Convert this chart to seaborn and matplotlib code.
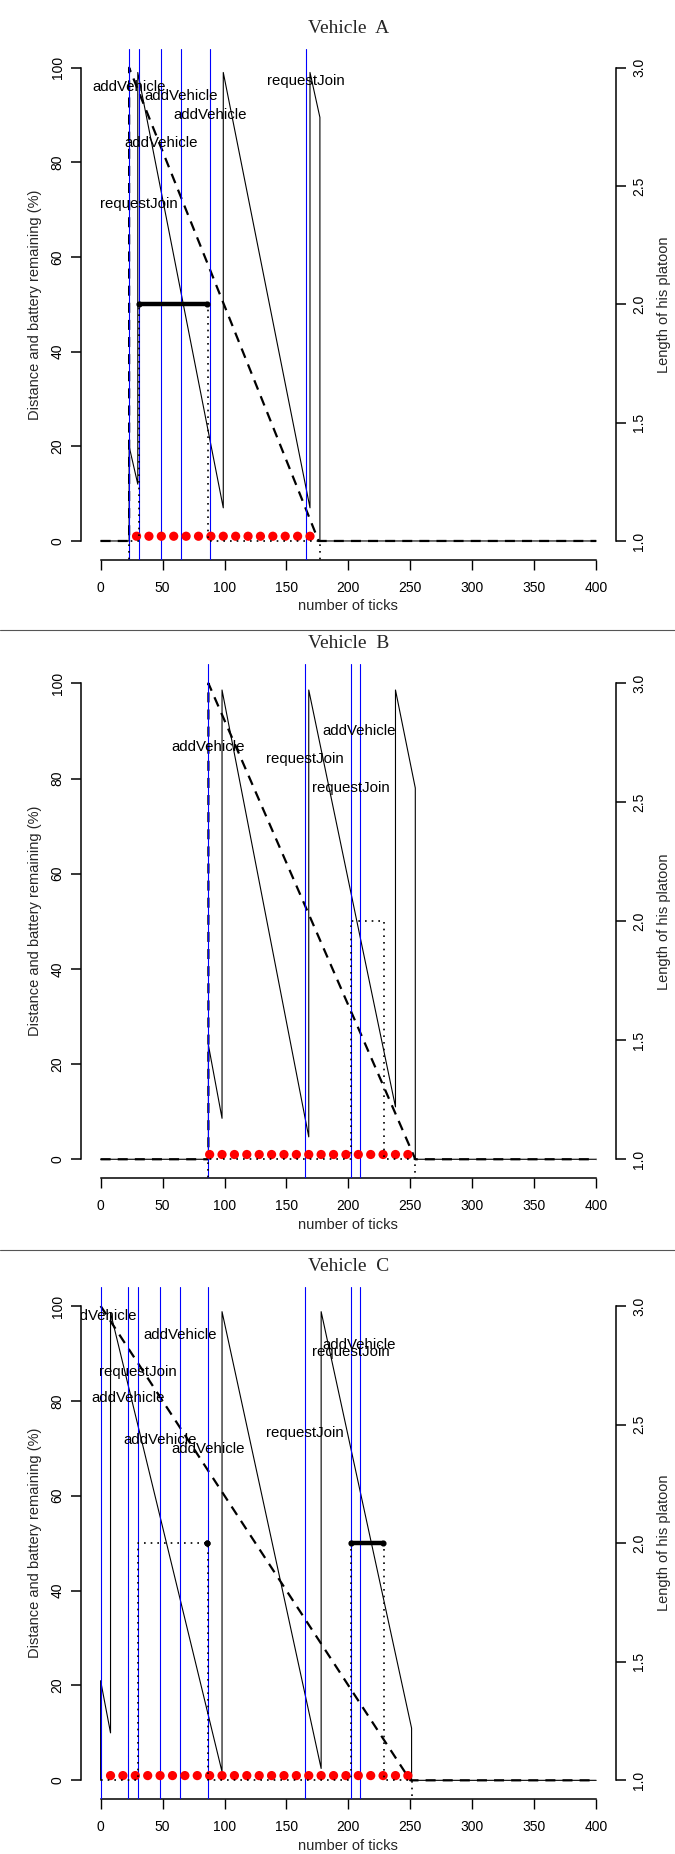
import numpy as np
import pandas as pd
import matplotlib
matplotlib.use("Agg")
import matplotlib.pyplot as plt
import seaborn as sns
from matplotlib.lines import Line2D

sns.set_style("ticks")
plt.rcParams['font.family'] = ['Liberation Sans', 'DejaVu Sans']

# ---------------- data ----------------
x_tick_values = [0, 50, 100, 150, 200, 250, 300, 350, 400]
left_tick_values = [0, 20, 40, 60, 80, 100]
right_tick_values = [1.0, 1.5, 2.0, 2.5, 3.0]
right_tick_labels = ["1.0", "1.5", "2.0", "2.5", "3.0"]

# Vehicle A
battery_A_x = [0, 23, 23, 30, 30, 99, 99, 169, 169, 177, 177, 400]
battery_A_y = [0, 0, 20, 12, 99, 7, 99, 7, 99, 89.5, 0, 0]
distance_A_x = [0, 23, 23, 176, 400]
distance_A_y = [0, 0, 100, 0, 0]
platoon_A_x = [0, 23, 23, 31, 31, 87, 87, 177, 177, 400]
platoon_A_y = [0, 0, 1, 1, 2, 2, 1, 1, 0, 0]
leader_A_start = [31]
leader_A_end = [86]
events_A_x = [23, 31, 49, 65, 88, 166]
labels_A = ["addVehicle", "requestJoin", "addVehicle", "addVehicle", "addVehicle", "requestJoin"]
labels_A_y = [96, 71.3, 84, 94, 90, 97.3]
red_A_x = [29, 39, 49, 59, 69, 79, 89, 99, 109, 119, 129, 139, 149, 159, 169]

# Vehicle B
battery_B_x = [0, 87, 87, 98, 98, 168, 168, 238, 238, 254, 254, 400]
battery_B_y = [0, 0, 24, 8.6, 98.6, 4.7, 98.6, 11, 98.6, 78, 0, 0]
distance_B_x = [0, 87, 87, 254, 400]
distance_B_y = [0, 0, 100, 0, 0]
platoon_B_x = [0, 87, 87, 202, 202, 229, 229, 254, 254, 400]
platoon_B_y = [0, 0, 1, 1, 2, 2, 1, 1, 0, 0]
leader_B_start = []
leader_B_end = []
events_B_x = [87, 165, 202, 209]
labels_B = ["addVehicle", "requestJoin", "requestJoin", "addVehicle"]
labels_B_y = [86.7, 84.2, 78.1, 90]
red_B_x = [88, 98, 108, 118, 128, 138, 148, 158, 168, 178, 188, 198, 208, 218, 228, 238, 248]

# Vehicle C
battery_C_x = [0, 0, 8, 8, 98, 98, 178, 178, 251, 251, 400]
battery_C_y = [0, 21, 10, 98.6, 1.8, 98.8, 2.5, 98.8, 11, 0, 0]
distance_C_x = [0, 250, 400]
distance_C_y = [100, 0, 0]
platoon_C_x = [0, 30, 30, 87, 87, 202, 202, 229, 229, 251, 251, 400]
platoon_C_y = [1, 1, 2, 2, 1, 1, 2, 2, 1, 1, 0, 0]
leader_C_start = [86, 202]
leader_C_end = [86, 228]
events_C_x = [0, 22, 30, 48, 64, 87, 165, 202, 209]
labels_C = ["addVehicle", "addVehicle", "requestJoin", "addVehicle", "addVehicle",
            "addVehicle", "requestJoin", "requestJoin", "addVehicle"]
labels_C_y = [97.9, 80.7, 86.1, 71.7, 93.8, 69.8, 73.2, 90.2, 91.8]
red_C_x = [8, 18, 28, 38, 48, 58, 68, 78, 88, 98, 108, 118, 128, 138, 148, 158,
           168, 178, 188, 198, 208, 218, 228, 238, 248]

panels = [
    ("A", battery_A_x, battery_A_y, distance_A_x, distance_A_y, platoon_A_x, platoon_A_y,
     leader_A_start, leader_A_end, events_A_x, labels_A, labels_A_y, red_A_x),
    ("B", battery_B_x, battery_B_y, distance_B_x, distance_B_y, platoon_B_x, platoon_B_y,
     leader_B_start, leader_B_end, events_B_x, labels_B, labels_B_y, red_B_x),
    ("C", battery_C_x, battery_C_y, distance_C_x, distance_C_y, platoon_C_x, platoon_C_y,
     leader_C_start, leader_C_end, events_C_x, labels_C, labels_C_y, red_C_x),
]

# ---------------- layout (pixels) ----------------
W, H = 675, 1854
DPI = 100
fig = plt.figure(figsize=(W / DPI, H / DPI), dpi=DPI)
fig.patch.set_facecolor("white")

ax_left_px, ax_right_px = 80.8, 616.0
panel_px = [(48.8, 559.9), (664.3, 1178.3), (1287.0, 1799.3)]
title_y_px = [28.5, 644.0, 1266.7]
separator_px = [630.0, 1250.0]

for (name, bx, by, dx, dy, px_, py_, ls, le, ex, lab, laby, rx), (top, bot), ty in zip(
        panels, panel_px, title_y_px):
    ax = fig.add_axes([ax_left_px / W, 1 - bot / H, (ax_right_px - ax_left_px) / W, (bot - top) / H])
    ax.set_facecolor("white")
    ax.set_xlim(-16, 416)
    ax.set_ylim(-4, 104)

    # battery (solid)
    sns.lineplot(x=bx, y=by, ax=ax, sort=False, estimator=None, color="black", lw=0.8)
    # distance remaining (dashed)
    sns.lineplot(x=dx, y=dy, ax=ax, sort=False, estimator=None, color="black", lw=1.6,
                 linestyle=(0, (4.5, 3.2)))
    # events
    for e in ex:
        ax.axvline(e, color="#0000FF", lw=0.8, zorder=3)
    for e, t, yv in zip(ex, lab, laby):
        ax.text(e, yv, t, ha="center", va="center", fontsize=10.8, color="black",
                clip_on=True, zorder=5)
    # red points
    sns.scatterplot(x=rx, y=[1] * len(rx), ax=ax, color="red", s=44, edgecolor="none",
                    zorder=6)

    ax.set_xticks(x_tick_values)
    ax.set_xticklabels([str(v) for v in x_tick_values])
    ax.set_yticks(left_tick_values)
    ax.set_yticklabels([str(v) for v in left_tick_values], rotation=90, va="center")
    ax.spines["top"].set_visible(False)
    ax.spines["right"].set_visible(False)
    ax.spines["left"].set_bounds(0, 100)
    ax.spines["bottom"].set_bounds(0, 400)
    for s in ("left", "bottom"):
        ax.spines[s].set_linewidth(1.1)
        ax.spines[s].set_color("black")
    ax.tick_params(axis="x", length=7.2, width=1.0, pad=8, labelsize=10, colors="black")
    ax.tick_params(axis="y", length=7.2, width=1.1, pad=4.5, labelsize=10, colors="black")
    ax.set_xlabel("number of ticks", fontsize=10.5, labelpad=3)
    ax.set_ylabel("Distance and battery remaining (%)", fontsize=10.5, labelpad=6)

    # platoon length on right axis
    ax2 = ax.twinx()
    ax2.set_ylim(1 - 4 / 50, 1 + 104 / 50)
    ax2.set_xlim(-16, 416)
    sns.lineplot(x=px_, y=py_, ax=ax2, sort=False, estimator=None, color="black", lw=1.2,
                 linestyle=(0, (1, 3)))
    for s0, s1 in zip(ls, le):
        ax2.plot([s0, s1], [2, 2], color="black", lw=3.2, solid_capstyle="round",
                 marker="o", ms=3.4, zorder=7)
    ax2.set_yticks(right_tick_values)
    ax2.set_yticklabels(right_tick_labels, rotation=90, va="center")
    for s in ("top", "left", "bottom"):
        ax2.spines[s].set_visible(False)
    ax2.spines["right"].set_bounds(1, 3)
    ax2.spines["right"].set_linewidth(1.1)
    ax2.spines["right"].set_color("black")
    ax2.tick_params(axis="y", length=7.2, width=1.1, pad=4.5, labelsize=10, colors="black")
    ax2.set_ylabel("Length of his platoon", fontsize=10.5, labelpad=8)
    ax2.grid(False)
    ax.grid(False)

    fig.text((ax_left_px + ax_right_px) / 2 / W, 1 - ty / H, "Vehicle  " + name,
             ha="center", va="center", fontsize=14, family=["Liberation Serif", "DejaVu Serif"])

for sy in separator_px:
    fig.add_artist(Line2D([0, 1], [1 - sy / H, 1 - sy / H], transform=fig.transFigure,
                          color="#555555", lw=0.8))

fig.savefig("out.png", dpi=DPI, facecolor="white")
